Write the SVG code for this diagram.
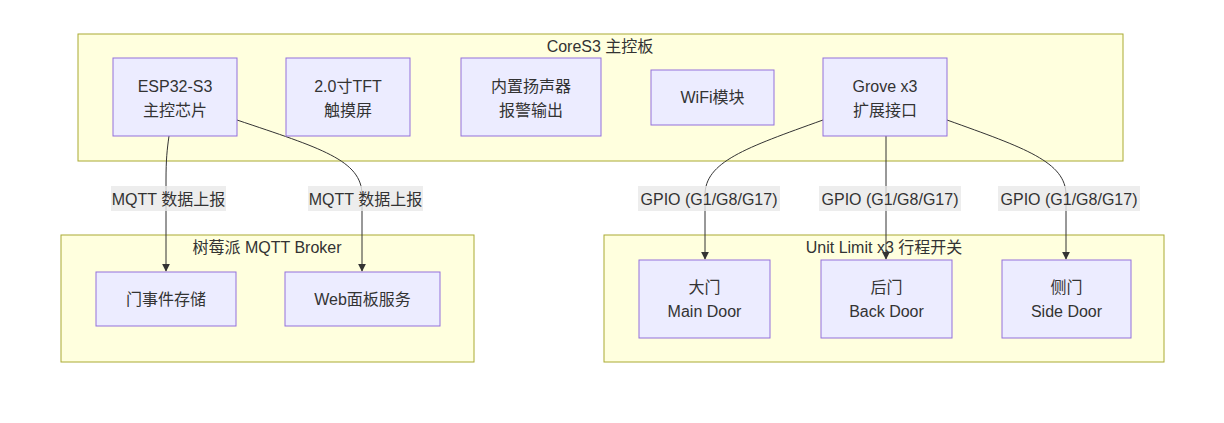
<svg xmlns="http://www.w3.org/2000/svg" width="1224" height="423" viewBox="0 0 1224 423">
<style>
text{font-family:"Liberation Sans","Noto Sans CJK SC",sans-serif;font-size:16px;fill:#333;text-anchor:middle}
.cluster{fill:#ffffde;stroke:#aaaa33;stroke-width:1}
.node{fill:#ececff;stroke:#9370db;stroke-width:1}
.edge{fill:none;stroke:#333;stroke-width:1}
.lbl{fill:#e8e8e8;fill-opacity:0.8}
</style>
<defs>
<marker id="arr" viewBox="0 0 10 10" refX="9" refY="5" markerWidth="8" markerHeight="8" markerUnits="userSpaceOnUse" orient="auto">
<path d="M0,0 L10,5 L0,10 z" fill="#333"/>
</marker>
</defs>
<rect width="1224" height="423" fill="#fff"/>
<g id="cluster-cores3">
<rect class="cluster" x="78" y="34" width="1045" height="127"/>
<text x="600" y="52">CoreS3 主控板</text>
</g>
<g id="cluster-broker">
<rect class="cluster" x="61" y="235" width="413" height="127"/>
<text x="267" y="253">树莓派 MQTT Broker</text>
</g>
<g id="cluster-limit">
<rect class="cluster" x="604" y="235" width="560" height="127"/>
<text x="884" y="253">Unit Limit x3 行程开关</text>
</g>
<g id="edges">
<path class="edge" d="M169,136 C167,150 166,160 166,180 L166,271" marker-end="url(#arr)"/>
<path class="edge" d="M237,120 C320,148 362,160 362,195 L362,271" marker-end="url(#arr)"/>
<path class="edge" d="M823,120 C745,148 705,162 705,195 L705,259" marker-end="url(#arr)"/>
<path class="edge" d="M886,136 L886,259" marker-end="url(#arr)"/>
<path class="edge" d="M947,120 C1025,148 1066,162 1066,195 L1066,259" marker-end="url(#arr)"/>
</g>
<g id="edge-labels">
<rect class="lbl" x="111" y="186" width="115" height="25"/>
<text x="168.5" y="205">MQTT 数据上报</text>
<rect class="lbl" x="308" y="186" width="115" height="25"/>
<text x="365.5" y="205">MQTT 数据上报</text>
<rect class="lbl" x="638" y="186" width="142" height="25"/>
<text x="709" y="205">GPIO (G1/G8/G17)</text>
<rect class="lbl" x="819" y="186" width="142" height="25"/>
<text x="890" y="205">GPIO (G1/G8/G17)</text>
<rect class="lbl" x="998" y="186" width="142" height="25"/>
<text x="1069" y="205">GPIO (G1/G8/G17)</text>
</g>
<g id="node-esp32">
<rect class="node" x="113" y="58" width="124" height="78"/>
<text x="175" y="92">ESP32-S3</text>
<text x="175" y="116">主控芯片</text>
</g>
<g id="node-tft">
<rect class="node" x="286" y="58" width="124" height="78"/>
<text x="348" y="92">2.0寸TFT</text>
<text x="348" y="116">触摸屏</text>
</g>
<g id="node-speaker">
<rect class="node" x="461" y="58" width="140" height="78"/>
<text x="531" y="92">内置扬声器</text>
<text x="531" y="116">报警输出</text>
</g>
<g id="node-wifi">
<rect class="node" x="651" y="70" width="123" height="55"/>
<text x="712.5" y="103">WiFi模块</text>
</g>
<g id="node-grove">
<rect class="node" x="823" y="58" width="124" height="78"/>
<text x="885" y="92">Grove x3</text>
<text x="885" y="116">扩展接口</text>
</g>
<g id="node-store">
<rect class="node" x="96" y="272" width="140" height="54"/>
<text x="166" y="305">门事件存储</text>
</g>
<g id="node-web">
<rect class="node" x="285" y="272" width="155" height="54"/>
<text x="362.5" y="305">Web面板服务</text>
</g>
<g id="node-main">
<rect class="node" x="639" y="260" width="131" height="78"/>
<text x="704.5" y="293">大门</text>
<text x="704.5" y="317">Main Door</text>
</g>
<g id="node-back">
<rect class="node" x="821" y="260" width="131" height="78"/>
<text x="886.5" y="293">后门</text>
<text x="886.5" y="317">Back Door</text>
</g>
<g id="node-side">
<rect class="node" x="1002" y="260" width="129" height="78"/>
<text x="1066.5" y="293">侧门</text>
<text x="1066.5" y="317">Side Door</text>
</g>
</svg>
